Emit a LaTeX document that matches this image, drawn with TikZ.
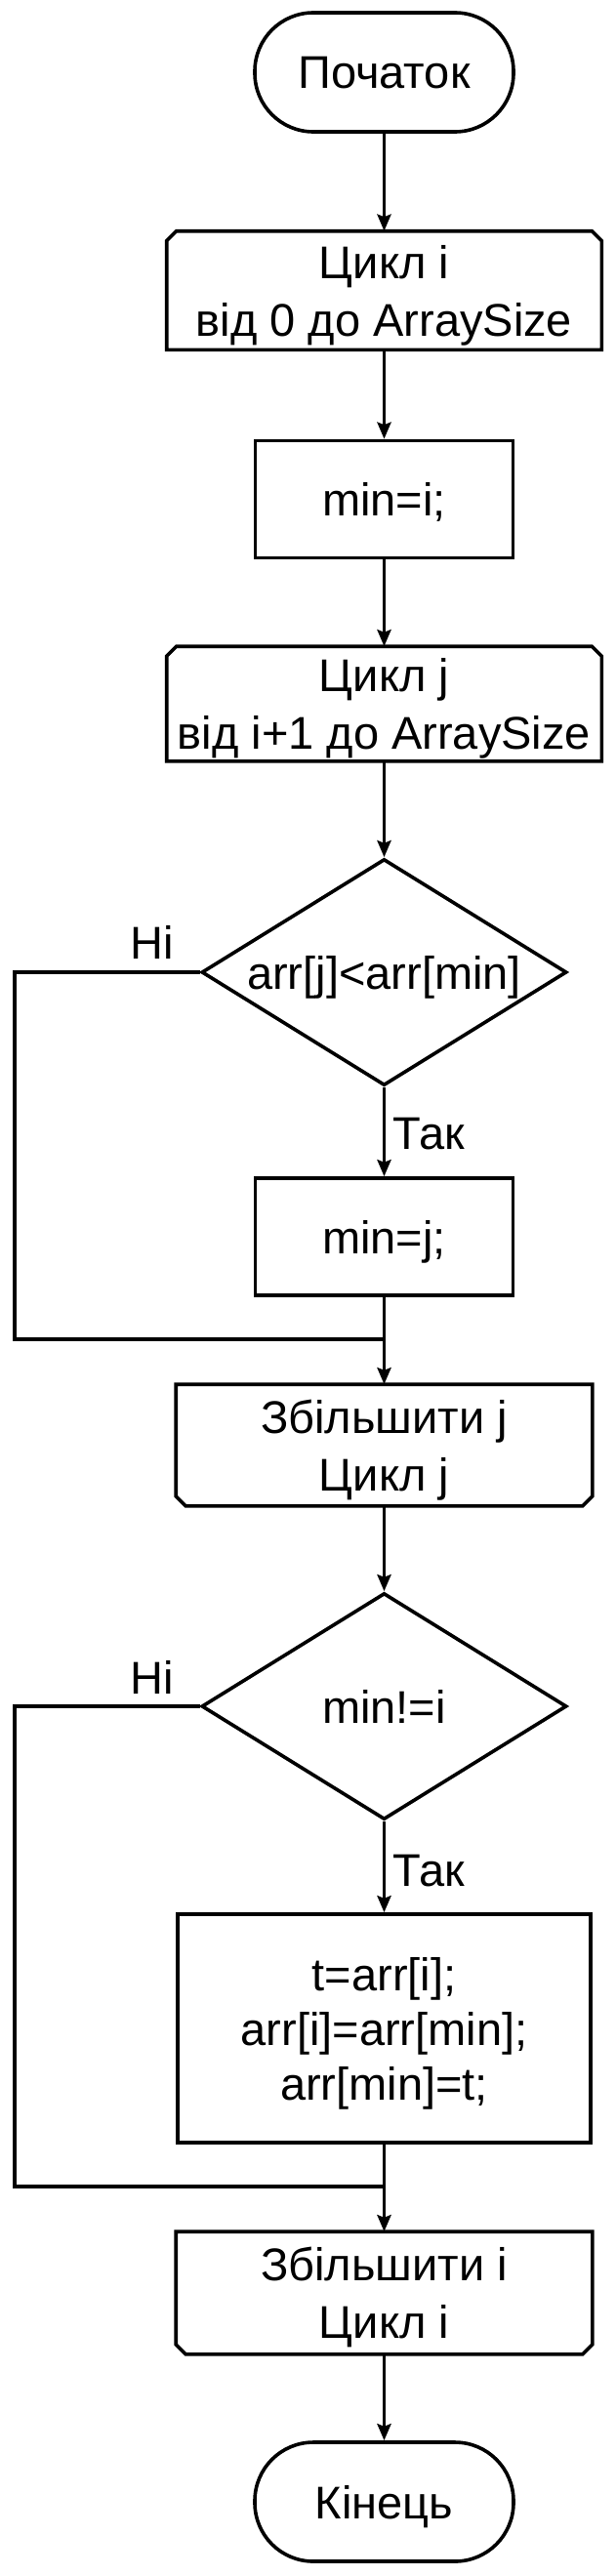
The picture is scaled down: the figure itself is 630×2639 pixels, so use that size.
\documentclass[tikz,border=0pt]{standalone}
\usepackage{fontspec}
\setmainfont{Liberation Sans}
\usetikzlibrary{arrows.meta,shapes.geometric}
\begin{document}
\begin{tikzpicture}[x=1pt,y=-1pt,line width=3.6pt,
  base/.style={inner sep=0pt, align=center, text depth=0pt, font=\fontsize{47}{59}\selectfont},
  proc/.style={base, draw, rectangle, minimum width=264pt, minimum height=120pt},
  term/.style={base, draw, rectangle, rounded corners=60pt, minimum width=265pt, minimum height=122pt},
  loopbox/.style={base, rectangle, minimum height=118pt},
  dec/.style={draw, diamond, inner sep=0pt, minimum width=374pt, minimum height=232pt},
  dectext/.style={base},
  lbl/.style={inner sep=0pt, font=\fontsize{47}{56}\selectfont},
  arrow/.style={-{Stealth[length=17pt,width=14pt,inset=2.5pt]}}
]
\useasboundingbox (0,0) rectangle (630,2639);

% nodes
\node[term] (start) at (393.5,74) {Початок};
\node[loopbox, minimum width=442pt] (ci) at (393.5,297.5) {Цикл i\\від 0 до ArraySize};
\node[proc] (mi) at (393.5,511.5) {min=i;};
\node[loopbox, minimum width=442pt, minimum height=114pt] (cj) at (393.5,721) {Цикл j\\від i+1 до ArraySize};
\node[dec] (d1) at (393.5,996) {};
\node[dectext] (t1) at (d1.center) {arr[j]<arr[min]};
\node[proc] (mj) at (393.5,1267) {min=j;};
\node[loopbox, minimum width=423pt, minimum height=121pt] (zj) at (393.5,1480.5) {Збільшити j\\Цикл j};
\node[dec] (d2) at (393.5,1748) {};
\node[dectext] (t2) at (d2.center) {min!=i};
\node[proc, minimum width=423pt, minimum height=234pt, font=\fontsize{47}{56}\selectfont] (sw) at (393.5,2078) {t=arr[i];\\arr[i]=arr[min];\\arr[min]=t;};
\node[loopbox, minimum width=423pt, minimum height=122pt] (zi) at (393.5,2349) {Збільшити i\\Цикл i};
\node[term] (end) at (393.5,2563) {Кінець};

% loop-limit outlines
\draw ([yshift=-10pt]ci.north west) -- ([xshift=10pt]ci.north west) -- ([xshift=-10pt]ci.north east) -- ([yshift=-10pt]ci.north east) -- (ci.south east) -- (ci.south west) -- cycle;
\draw ([yshift=-10pt]cj.north west) -- ([xshift=10pt]cj.north west) -- ([xshift=-10pt]cj.north east) -- ([yshift=-10pt]cj.north east) -- (cj.south east) -- (cj.south west) -- cycle;
\draw ([yshift=10pt]zj.south west) -- ([xshift=10pt]zj.south west) -- ([xshift=-10pt]zj.south east) -- ([yshift=10pt]zj.south east) -- (zj.north east) -- (zj.north west) -- cycle;
\draw ([yshift=10pt]zi.south west) -- ([xshift=10pt]zi.south west) -- ([xshift=-10pt]zi.south east) -- ([yshift=10pt]zi.south east) -- (zi.north east) -- (zi.north west) -- cycle;

% labels
\node[lbl, anchor=base] (no1) at (156,982) {Ні};
\node[lbl, anchor=base west] (yes1) at (401,1177) {Так};
\node[lbl, anchor=base] (no2) at (156,1735) {Ні};
\node[lbl, anchor=base west] (yes2) at (401,1932) {Так};

% merge points
\coordinate (m1) at (393.5,1372);
\coordinate (l1) at (15,1372);
\coordinate (m2) at (393.5,2240);
\coordinate (l2) at (15,2240);

% connectors
\draw[arrow] (start) -- (ci);
\draw[arrow] (ci) -- (mi);
\draw[arrow] (mi) -- (cj);
\draw[arrow] (cj) -- (d1);
\draw[arrow] (d1) -- (mj);
\draw (mj) -- (m1);
\draw (d1.west) -| (l1) -- (m1);
\draw[arrow] (m1) -- (zj);
\draw[arrow] (zj) -- (d2);
\draw[arrow] (d2) -- (sw);
\draw (sw) -- (m2);
\draw (d2.west) -| (l2) -- (m2);
\draw[arrow] (m2) -- (zi);
\draw[arrow] (zi) -- (end);
\end{tikzpicture}
\end{document}
